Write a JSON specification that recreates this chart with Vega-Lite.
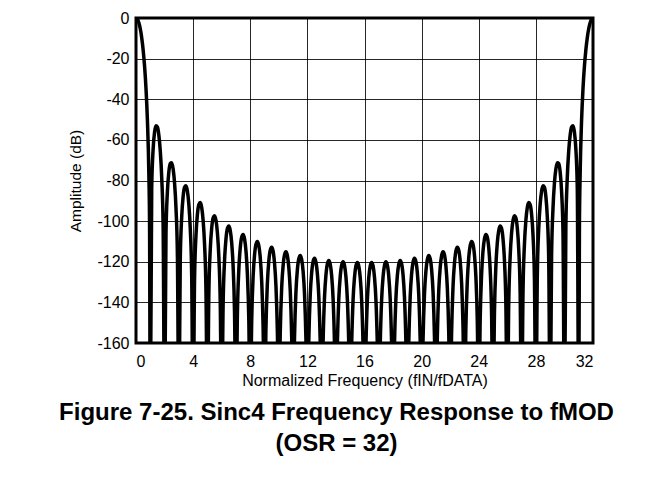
{
"$schema":"https://vega.github.io/schema/vega-lite/v6.json",
"width":457,"height":325,
"autosize":{"type":"none"},
"padding":{"left":136,"top":18,"right":71,"bottom":143},
"background":"#ffffff",
"title":{"text":["Figure 7-25. Sinc4 Frequency Response to fMOD","(OSR = 32)"],"orient":"bottom","anchor":"middle","dx":-28,"offset":13,"font":"Liberation Sans","fontSize":24,"fontWeight":"bold","color":"#000","lineHeight":31},
"data":{"values":[
{"f":0,"d":0},{"f":0.1,"d":-0.57},{"f":0.2,"d":-2.32},{"f":0.3,"d":-5.3},{"f":0.4,"d":-9.67},{"f":0.5,"d":-15.68},{"f":0.6,"d":-23.75},{"f":0.7,"d":-34.72},{"f":0.8,"d":-50.45},{"f":0.9,"d":-76.87},{"f":0.95,"d":-102.4},{"f":1,"d":-200},
{"f":1.1,"d":-83.82},{"f":1.2,"d":-64.49},{"f":1.3,"d":-56.15},{"f":1.4,"d":-53.09},{"f":1.5,"d":-53.73},{"f":1.6,"d":-57.7},{"f":1.7,"d":-65.41},{"f":1.8,"d":-78.47},{"f":1.9,"d":-102.67},{"f":2,"d":-200},
{"f":2.1,"d":-106.1},{"f":2.2,"d":-85.36},{"f":2.3,"d":-75.77},{"f":2.4,"d":-71.61},{"f":2.5,"d":-71.26},{"f":2.6,"d":-74.33},{"f":2.7,"d":-81.23},{"f":2.8,"d":-93.57},{"f":2.9,"d":-117.09},{"f":3,"d":-200},
{"f":3.1,"d":-119.27},{"f":3.2,"d":-97.97},{"f":3.3,"d":-87.9},{"f":3.4,"d":-83.32},{"f":3.5,"d":-82.61},{"f":3.6,"d":-85.24},{"f":3.7,"d":-91.74},{"f":3.8,"d":-103.73},{"f":3.9,"d":-126.95},{"f":4,"d":-200},
{"f":4.1,"d":-128.61},{"f":4.2,"d":-107.04},{"f":4.3,"d":-96.71},{"f":4.4,"d":-91.86},{"f":4.5,"d":-90.89},{"f":4.6,"d":-93.31},{"f":4.7,"d":-99.61},{"f":4.8,"d":-111.39},{"f":4.9,"d":-134.41},{"f":5,"d":-200},
{"f":5.1,"d":-135.69},{"f":5.2,"d":-113.95},{"f":5.3,"d":-103.45},{"f":5.4,"d":-98.43},{"f":5.5,"d":-97.3},{"f":5.6,"d":-99.58},{"f":5.7,"d":-105.73},{"f":5.8,"d":-117.37},{"f":5.9,"d":-140.25},{"f":6,"d":-200},
{"f":6.1,"d":-141.28},{"f":6.2,"d":-119.42},{"f":6.3,"d":-108.81},{"f":6.4,"d":-103.67},{"f":6.5,"d":-102.41},{"f":6.6,"d":-104.59},{"f":6.7,"d":-110.65},{"f":6.8,"d":-122.19},{"f":6.9,"d":-144.96},{"f":7,"d":-200},
{"f":7.1,"d":-145.8},{"f":7.2,"d":-123.85},{"f":7.3,"d":-113.15},{"f":7.4,"d":-107.92},{"f":7.5,"d":-106.58},{"f":7.6,"d":-108.68},{"f":7.7,"d":-114.66},{"f":7.8,"d":-126.11},{"f":7.9,"d":-148.81},{"f":8,"d":-200},
{"f":8.1,"d":-149.5},{"f":8.2,"d":-127.48},{"f":8.3,"d":-116.71},{"f":8.4,"d":-111.41},{"f":8.5,"d":-110},{"f":8.6,"d":-112.03},{"f":8.7,"d":-117.94},{"f":8.8,"d":-129.34},{"f":8.9,"d":-151.97},{"f":9,"d":-200},
{"f":9.1,"d":-152.53},{"f":9.2,"d":-130.46},{"f":9.3,"d":-119.63},{"f":9.4,"d":-114.27},{"f":9.5,"d":-112.8},{"f":9.6,"d":-114.78},{"f":9.7,"d":-120.64},{"f":9.8,"d":-131.98},{"f":9.9,"d":-154.56},{"f":10,"d":-200},
{"f":10.1,"d":-155.02},{"f":10.2,"d":-132.89},{"f":10.3,"d":-122.01},{"f":10.4,"d":-116.6},{"f":10.5,"d":-115.08},{"f":10.6,"d":-117.01},{"f":10.7,"d":-122.83},{"f":10.8,"d":-134.12},{"f":10.9,"d":-156.65},{"f":11,"d":-200},
{"f":11.1,"d":-157.02},{"f":11.2,"d":-134.85},{"f":11.3,"d":-123.92},{"f":11.4,"d":-118.47},{"f":11.5,"d":-116.91},{"f":11.6,"d":-118.8},{"f":11.7,"d":-124.57},{"f":11.8,"d":-135.82},{"f":11.9,"d":-158.31},{"f":12,"d":-200},
{"f":12.1,"d":-158.59},{"f":12.2,"d":-136.38},{"f":12.3,"d":-125.42},{"f":12.4,"d":-119.93},{"f":12.5,"d":-118.32},{"f":12.6,"d":-120.17},{"f":12.7,"d":-125.9},{"f":12.8,"d":-137.12},{"f":12.9,"d":-159.57},{"f":13,"d":-200},
{"f":13.1,"d":-159.78},{"f":13.2,"d":-137.53},{"f":13.3,"d":-126.53},{"f":13.4,"d":-121},{"f":13.5,"d":-119.35},{"f":13.6,"d":-121.17},{"f":13.7,"d":-126.87},{"f":13.8,"d":-138.04},{"f":13.9,"d":-160.46},{"f":14,"d":-200},
{"f":14.1,"d":-160.6},{"f":14.2,"d":-138.32},{"f":14.3,"d":-127.28},{"f":14.4,"d":-121.71},{"f":14.5,"d":-120.03},{"f":14.6,"d":-121.82},{"f":14.7,"d":-127.48},{"f":14.8,"d":-138.62},{"f":14.9,"d":-161},{"f":15,"d":-200},
{"f":15.1,"d":-161.07},{"f":15.2,"d":-138.75},{"f":15.3,"d":-127.68},{"f":15.4,"d":-122.08},{"f":15.5,"d":-120.37},{"f":15.6,"d":-122.12},{"f":15.7,"d":-127.75},{"f":15.8,"d":-138.86},{"f":15.9,"d":-161.2},{"f":16,"d":-200},
{"f":16.1,"d":-161.2},{"f":16.2,"d":-138.86},{"f":16.3,"d":-127.75},{"f":16.4,"d":-122.12},{"f":16.5,"d":-120.37},{"f":16.6,"d":-122.08},{"f":16.7,"d":-127.68},{"f":16.8,"d":-138.75},{"f":16.9,"d":-161.07},{"f":17,"d":-200},
{"f":17.1,"d":-161},{"f":17.2,"d":-138.62},{"f":17.3,"d":-127.48},{"f":17.4,"d":-121.82},{"f":17.5,"d":-120.03},{"f":17.6,"d":-121.71},{"f":17.7,"d":-127.28},{"f":17.8,"d":-138.32},{"f":17.9,"d":-160.6},{"f":18,"d":-200},
{"f":18.1,"d":-160.46},{"f":18.2,"d":-138.04},{"f":18.3,"d":-126.87},{"f":18.4,"d":-121.17},{"f":18.5,"d":-119.35},{"f":18.6,"d":-121},{"f":18.7,"d":-126.53},{"f":18.8,"d":-137.53},{"f":18.9,"d":-159.78},{"f":19,"d":-200},
{"f":19.1,"d":-159.57},{"f":19.2,"d":-137.12},{"f":19.3,"d":-125.9},{"f":19.4,"d":-120.17},{"f":19.5,"d":-118.32},{"f":19.6,"d":-119.93},{"f":19.7,"d":-125.42},{"f":19.8,"d":-136.38},{"f":19.9,"d":-158.59},{"f":20,"d":-200},
{"f":20.1,"d":-158.31},{"f":20.2,"d":-135.82},{"f":20.3,"d":-124.57},{"f":20.4,"d":-118.8},{"f":20.5,"d":-116.91},{"f":20.6,"d":-118.47},{"f":20.7,"d":-123.92},{"f":20.8,"d":-134.85},{"f":20.9,"d":-157.02},{"f":21,"d":-200},
{"f":21.1,"d":-156.65},{"f":21.2,"d":-134.12},{"f":21.3,"d":-122.83},{"f":21.4,"d":-117.01},{"f":21.5,"d":-115.08},{"f":21.6,"d":-116.6},{"f":21.7,"d":-122.01},{"f":21.8,"d":-132.89},{"f":21.9,"d":-155.02},{"f":22,"d":-200},
{"f":22.1,"d":-154.56},{"f":22.2,"d":-131.98},{"f":22.3,"d":-120.64},{"f":22.4,"d":-114.78},{"f":22.5,"d":-112.8},{"f":22.6,"d":-114.27},{"f":22.7,"d":-119.63},{"f":22.8,"d":-130.46},{"f":22.9,"d":-152.53},{"f":23,"d":-200},
{"f":23.1,"d":-151.97},{"f":23.2,"d":-129.34},{"f":23.3,"d":-117.94},{"f":23.4,"d":-112.03},{"f":23.5,"d":-110},{"f":23.6,"d":-111.41},{"f":23.7,"d":-116.71},{"f":23.8,"d":-127.48},{"f":23.9,"d":-149.5},{"f":24,"d":-200},
{"f":24.1,"d":-148.81},{"f":24.2,"d":-126.11},{"f":24.3,"d":-114.66},{"f":24.4,"d":-108.68},{"f":24.5,"d":-106.58},{"f":24.6,"d":-107.92},{"f":24.7,"d":-113.15},{"f":24.8,"d":-123.85},{"f":24.9,"d":-145.8},{"f":25,"d":-200},
{"f":25.1,"d":-144.96},{"f":25.2,"d":-122.19},{"f":25.3,"d":-110.65},{"f":25.4,"d":-104.59},{"f":25.5,"d":-102.41},{"f":25.6,"d":-103.67},{"f":25.7,"d":-108.81},{"f":25.8,"d":-119.42},{"f":25.9,"d":-141.28},{"f":26,"d":-200},
{"f":26.1,"d":-140.25},{"f":26.2,"d":-117.37},{"f":26.3,"d":-105.73},{"f":26.4,"d":-99.58},{"f":26.5,"d":-97.3},{"f":26.6,"d":-98.43},{"f":26.7,"d":-103.45},{"f":26.8,"d":-113.95},{"f":26.9,"d":-135.69},{"f":27,"d":-200},
{"f":27.1,"d":-134.41},{"f":27.2,"d":-111.39},{"f":27.3,"d":-99.61},{"f":27.4,"d":-93.31},{"f":27.5,"d":-90.89},{"f":27.6,"d":-91.86},{"f":27.7,"d":-96.71},{"f":27.8,"d":-107.04},{"f":27.9,"d":-128.61},{"f":28,"d":-200},
{"f":28.1,"d":-126.95},{"f":28.2,"d":-103.73},{"f":28.3,"d":-91.74},{"f":28.4,"d":-85.24},{"f":28.5,"d":-82.61},{"f":28.6,"d":-83.32},{"f":28.7,"d":-87.9},{"f":28.8,"d":-97.97},{"f":28.9,"d":-119.27},{"f":29,"d":-200},
{"f":29.1,"d":-117.09},{"f":29.2,"d":-93.57},{"f":29.3,"d":-81.23},{"f":29.4,"d":-74.33},{"f":29.5,"d":-71.26},{"f":29.6,"d":-71.61},{"f":29.7,"d":-75.77},{"f":29.8,"d":-85.36},{"f":29.9,"d":-106.1},{"f":30,"d":-200},
{"f":30.1,"d":-102.67},{"f":30.2,"d":-78.47},{"f":30.3,"d":-65.41},{"f":30.4,"d":-57.7},{"f":30.5,"d":-53.73},{"f":30.6,"d":-53.09},{"f":30.7,"d":-56.15},{"f":30.8,"d":-64.49},{"f":30.9,"d":-83.82},{"f":31,"d":-200},
{"f":31.05,"d":-102.4},{"f":31.1,"d":-76.87},{"f":31.2,"d":-50.45},{"f":31.3,"d":-34.72},{"f":31.4,"d":-23.75},{"f":31.5,"d":-15.68},{"f":31.6,"d":-9.67},{"f":31.7,"d":-5.3},{"f":31.8,"d":-2.32},{"f":31.9,"d":-0.57},{"f":32,"d":0}
]},
"mark":{"type":"line","color":"#000","strokeWidth":3.5,"interpolate":"monotone","clip":true},
"encoding":{
"x":{"field":"f","type":"quantitative","scale":{"domain":[0,32],"nice":false,"zero":false},
"axis":{"values":[0,4,8,12,16,20,24,28,32],"labelExpr":"toString(datum.value)","title":"Normalized Frequency  (fIN/fDATA)","grid":true,"gridColor":"#000","gridOpacity":0.85,"gridWidth":1,"ticks":false,"domain":false,"labelPadding":10,"labelFont":"Liberation Sans","labelFontSize":16,"labelColor":"#000","titleFont":"Liberation Sans","titleFontSize":16,"titleFontWeight":"normal","titleColor":"#000","titlePadding":3}},
"y":{"field":"d","type":"quantitative","scale":{"domain":[-160,0],"nice":false,"zero":false},
"axis":{"values":[-160,-140,-120,-100,-80,-60,-40,-20,0],"labelExpr":"toString(datum.value)","title":"Amplitude (dB)","grid":true,"gridColor":"#000","gridOpacity":0.85,"gridWidth":1,"ticks":false,"domain":false,"labelPadding":7,"labelFont":"Liberation Sans","labelFontSize":16,"labelColor":"#000","titleFont":"Liberation Sans","titleFontSize":15.5,"titleFontWeight":"normal","titleColor":"#000","titlePadding":13}}
},
"config":{"view":{"stroke":"#000","strokeWidth":3}}
}
